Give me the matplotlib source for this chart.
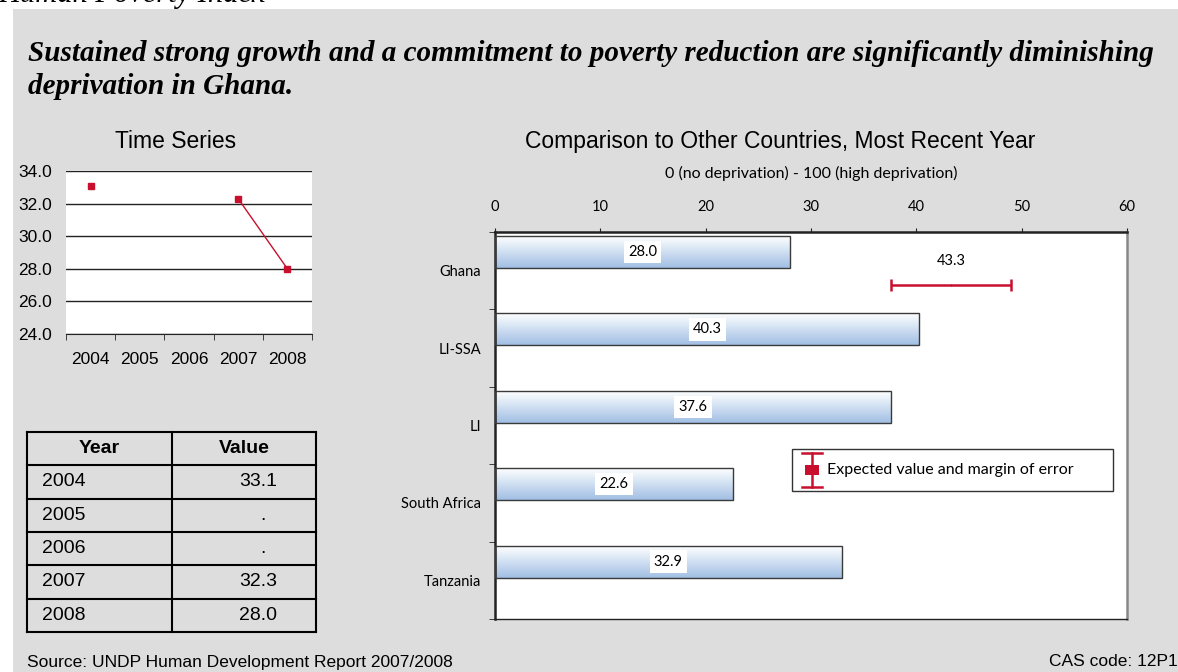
import numpy as np
import matplotlib
matplotlib.use("Agg")
import matplotlib.pyplot as plt
from matplotlib.patches import Rectangle
from matplotlib.lines import Line2D
from matplotlib.colors import LinearSegmentedColormap

# ---- Human Poverty Index, Ghana: time series ----
years = ["2004", "2005", "2006", "2007", "2008"]
hpi_values = [33.1, None, None, 32.3, 28.0]

# ---- Comparison to other countries, most recent year ----
countries = ["Ghana", "LI-SSA", "LI", "South Africa", "Tanzania"]
country_values = [28.0, 40.3, 37.6, 22.6, 32.9]
expected_value = 43.3
expected_low = 37.6
expected_high = 49.0

W, H = 1178, 672
fig = plt.figure(figsize=(W / 100, H / 100), dpi=100)
fig.patch.set_facecolor("white")


def fx(px):
    return px / W


def fy(py):
    return 1 - py / H


BG = "#DDDDDD"
RED = "#C8102E"
SANS = "Liberation Sans"
SERIF = "Liberation Serif"
GILL = "Lato"

# page heading (partly cut off at the top) and grey panel
fig.text(fx(-2), fy(2), "Human Poverty Index", family=SERIF, style="italic",
         fontsize=22, va="baseline", ha="left")
fig.add_artist(Rectangle((fx(13), 0), 1 - fx(13), fy(9), transform=fig.transFigure,
                         facecolor=BG, edgecolor="none", zorder=-10))

fig.text(fx(28), fy(61),
         "Sustained strong growth and a commitment to poverty reduction are significantly diminishing",
         family=SERIF, weight="bold", style="italic", fontsize=21, va="baseline")
fig.text(fx(28), fy(94), "deprivation in Ghana.",
         family=SERIF, weight="bold", style="italic", fontsize=21, va="baseline")

# ---------------- time series ----------------
fig.text(fx(176), fy(148), "Time Series", family=SANS, fontsize=16.5,
         ha="center", va="baseline")
ax1 = fig.add_axes([fx(66), fy(334), fx(312) - fx(66), fy(171) - fy(334)])
xs = np.arange(len(years))
vals = np.array([np.nan if v is None else v for v in hpi_values])
ax1.plot(xs, vals, color=RED, lw=1, marker="s", ms=4.5, zorder=3, clip_on=False)
ax1.set_xlim(-0.5, len(years) - 0.5)
ax1.set_ylim(24, 34)
yt = np.arange(24, 34.1, 2)
ax1.set_yticks(yt)
ax1.set_yticklabels([f"{t:.1f}" for t in yt], family=SANS)
ax1.yaxis.grid(True, color="#222222", lw=1)
ax1.set_axisbelow(True)
for s in ["top", "right", "left"]:
    ax1.spines[s].set_visible(False)
ax1.spines["bottom"].set_color("#222222")
ax1.tick_params(axis="y", length=0, pad=10, labelsize=12.5)
ax1.set_xticks(xs)
ax1.set_xticklabels(years, family=SANS)
ax1.set_xticks(np.arange(-0.5, len(years), 1), minor=True)
ax1.tick_params(axis="x", which="major", length=0, pad=13, labelsize=12.5)
ax1.tick_params(axis="x", which="minor", length=4, color="#222222", direction="out")

# ---------------- table ----------------
axt = fig.add_axes([fx(27), fy(632), fx(316) - fx(27), fy(432) - fy(632)])
tw, th = 289, 200
axt.set_xlim(0, tw)
axt.set_ylim(th, 0)
axt.axis("off")
nrows = len(years) + 1
rh = th / nrows
col_split = 145
for k in range(nrows + 1):
    axt.plot([0, tw], [k * rh, k * rh], color="black", lw=1.5, clip_on=False,
             solid_capstyle="projecting")
for xv in [0, col_split, tw]:
    axt.plot([xv, xv], [0, th], color="black", lw=1.5, clip_on=False,
             solid_capstyle="projecting")
axt.text(col_split / 2, rh / 2, "Year", family=SANS, weight="bold", fontsize=14,
         ha="center", va="center")
axt.text((col_split + tw) / 2, rh / 2, "Value", family=SANS, weight="bold", fontsize=14,
         ha="center", va="center")
for i, (yr, v) in enumerate(zip(years, hpi_values)):
    yc = (i + 1.5) * rh
    axt.text(15, yc, yr, family=SANS, fontsize=14, ha="left", va="center")
    if v is None:
        axt.text(236, yc, ".", family=SANS, fontsize=14, ha="center", va="center")
    else:
        axt.text(250, yc, f"{v:.1f}", family=SANS, fontsize=14, ha="right", va="center")

# ---------------- comparison bars ----------------
fig.text(fx(780), fy(148), "Comparison to Other Countries, Most Recent Year",
         family=SANS, fontsize=16.5, ha="center", va="baseline")
ax2 = fig.add_axes([fx(495), fy(619), fx(1127) - fx(495), fy(232) - fy(619)])
pos = np.arange(len(countries))
bar_off, bar_h, err_off = -0.242, 0.413, 0.185
bars = ax2.barh(pos + bar_off, country_values, height=bar_h, facecolor="none",
                edgecolor="#3a3a3a", lw=1, zorder=3)
grad = np.linspace(0, 1, 256).reshape(-1, 1)
cmap = LinearSegmentedColormap.from_list("barfill", ["#FFFFFF", "#A0BFE4"])
for b in bars:
    x0, y0, w, h = b.get_x(), b.get_y(), b.get_width(), b.get_height()
    ax2.imshow(grad, extent=(x0, x0 + w, y0 + h, y0), origin="upper", cmap=cmap,
               aspect="auto", zorder=2, interpolation="bilinear")
for p, v in zip(pos, country_values):
    ax2.text(v / 2, p + bar_off, f"{v:.1f}", family=GILL, fontsize=10.5,
             ha="center", va="center", zorder=5,
             bbox=dict(facecolor="white", edgecolor="none", pad=3))

ax2.errorbar([expected_value], [pos[0] + err_off],
             xerr=[[expected_value - expected_low], [expected_high - expected_value]],
             fmt="|", color=RED, ms=2, elinewidth=1.8, capsize=4, capthick=1.8, zorder=4)
ax2.annotate(f"{expected_value:.1f}", (expected_value, pos[0] + err_off),
             xytext=(0, 17), textcoords="offset points", ha="center", va="center",
             family=GILL, fontsize=10.5)

ax2.set_xlim(0, 60)
ax2.set_ylim(len(countries) - 0.5, -0.5)
ax2.xaxis.tick_top()
ax2.set_xticks(np.arange(0, 61, 10))
ax2.set_xticklabels([str(t) for t in range(0, 61, 10)], family=GILL)
ax2.tick_params(axis="x", length=3, pad=10, labelsize=10.5, direction="out", color="#222222")
ax2.set_yticks(pos)
ax2.set_yticklabels(countries, family=GILL)
ax2.set_yticks(np.arange(-0.5, len(countries), 1), minor=True)
ax2.tick_params(axis="y", which="major", length=0, pad=10, labelsize=10.5)
ax2.tick_params(axis="y", which="minor", length=4, direction="out", color="#222222")
ax2.spines["top"].set_linewidth(1.8)
ax2.spines["left"].set_linewidth(1.8)
ax2.spines["top"].set_color("#222222")
ax2.spines["left"].set_color("#222222")
ax2.spines["right"].set_color("#888888")
ax2.spines["right"].set_linewidth(1.8)
ax2.spines["bottom"].set_color("#222222")
ax2.spines["bottom"].set_linewidth(1)

fig.text(fx(811), fy(173), "0 (no deprivation) - 100 (high deprivation)",
         family=GILL, fontsize=11.5, ha="center", va="center")

# legend box for the expected value marker
tA = ax2.transAxes
ax2.add_patch(Rectangle((0.470, 0.331), 0.508, 0.108, transform=tA, facecolor="white",
                        edgecolor="#333333", lw=1, zorder=6))
lx = 0.5016
ax2.add_line(Line2D([lx, lx], [0.341, 0.429], transform=tA, color=RED, lw=1.8, zorder=7))
for yy in (0.341, 0.429):
    ax2.add_line(Line2D([0.486, 0.517], [yy, yy], transform=tA, color=RED, lw=1.8, zorder=7))
ax2.add_patch(Rectangle((lx - 0.0111, 0.385 - 0.0129), 0.0222, 0.0258, transform=tA,
                        facecolor=RED, edgecolor="none", zorder=7))
ax2.text(0.525, 0.385, "Expected value and margin of error", transform=tA,
         family=GILL, fontsize=11.5, ha="left", va="center", zorder=8)

# footer
fig.text(fx(27), fy(662), "Source: UNDP Human Development Report 2007/2008",
         family=SANS, fontsize=12.5, ha="left", va="center")
fig.text(fx(1178), fy(662), "CAS code: 12P1", family=SANS, fontsize=12.5,
         ha="right", va="center")

fig.savefig("out.png", dpi=100, facecolor=fig.get_facecolor())
